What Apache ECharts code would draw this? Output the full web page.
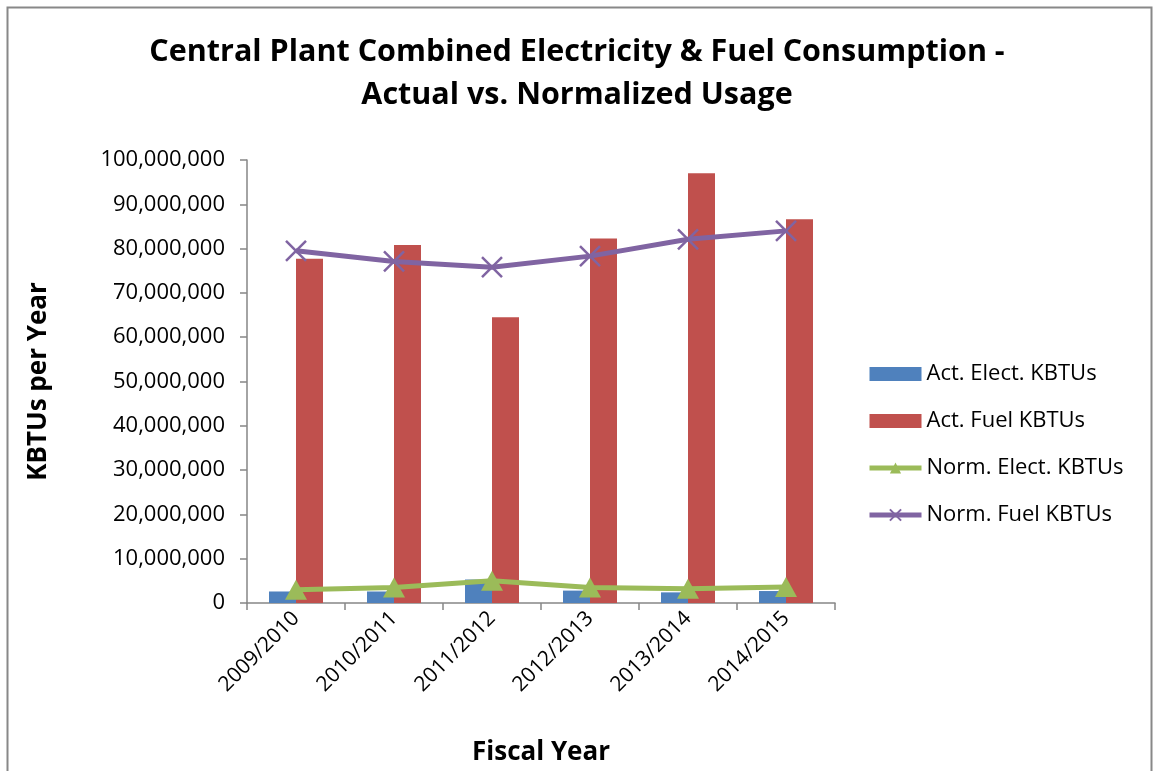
<!DOCTYPE html>
<html>
<head>
<meta charset="utf-8">
<script src="https://cdn.jsdelivr.net/npm/echarts@6/dist/echarts.min.js"></script>
<style>
  html, body { margin: 0; padding: 0; background: #fff; }
  #chart { width: 1154px; height: 771px; }
</style>
</head>
<body>
<div id="chart"></div>
<script>
// Fiscal years and yearly consumption (KBTUs)
const fiscalYears = ['2009/2010', '2010/2011', '2011/2012', '2012/2013', '2013/2014', '2014/2015'];
const actElect = [2600000, 2600000, 5300000, 2800000, 2400000, 2700000];
const actFuel = [77700000, 80800000, 64500000, 82300000, 97000000, 86600000];
const normElect = [3000000, 3500000, 5000000, 3500000, 3200000, 3600000];
const normFuel = [79500000, 77100000, 75800000, 78300000, 82100000, 84000000];

const FONT = 'Open Sans';
const axisGray = '#868686';

const chart = echarts.init(document.getElementById('chart'));

const option = {
  backgroundColor: '#fff',
  animation: false,
  graphic: [{
    type: 'rect',
    left: 5, top: 5,
    shape: { width: 1144, height: 800 },
    style: { fill: 'none', stroke: '#888', lineWidth: 2 },
    silent: true
  }],
  title: {
    text: 'Central Plant Combined Electricity & Fuel Consumption -\nActual vs. Normalized Usage',
    left: 'center',
    top: 26,
    textStyle: { fontFamily: FONT, fontWeight: 'bold', fontSize: 30.5, color: '#000', lineHeight: 43 }
  },
  legend: {
    orient: 'vertical',
    left: 862,
    top: 358,
    itemWidth: 52,
    itemHeight: 14,
    itemGap: 25,
    textStyle: { fontFamily: FONT, fontSize: 22, color: '#000' },
    data: [
      { name: 'Act. Elect. KBTUs', icon: 'rect' },
      { name: 'Act. Fuel KBTUs', icon: 'rect' },
      { name: 'Norm. Elect. KBTUs', lineStyle: { width: 5 } },
      { name: 'Norm. Fuel KBTUs', lineStyle: { width: 5 } }
    ]
  },
  grid: { left: 247, right: 319, top: 160, bottom: 168 },
  xAxis: {
    type: 'category',
    data: fiscalYears,
    name: 'Fiscal Year',
    nameLocation: 'middle',
    nameGap: 137,
    nameTextStyle: { fontFamily: FONT, fontWeight: 'bold', fontSize: 26, color: '#000' },
    axisLine: { lineStyle: { color: axisGray, width: 1.5 } },
    axisTick: { show: true, length: 7, lineStyle: { color: axisGray, width: 1.5 } },
    axisLabel: { rotate: 45, fontFamily: FONT, fontSize: 21, color: '#000', margin: 12 }
  },
  yAxis: {
    type: 'value',
    min: 0,
    max: 100000000,
    interval: 10000000,
    name: 'KBTUs per Year',
    nameLocation: 'middle',
    nameGap: 195,
    nameTextStyle: { fontFamily: FONT, fontWeight: 'bold', fontSize: 26, color: '#000' },
    splitLine: { show: false },
    axisLine: { show: true, lineStyle: { color: axisGray, width: 1.5 } },
    axisTick: { show: true, length: 7, lineStyle: { color: axisGray, width: 1.5 } },
    axisLabel: {
      fontFamily: FONT, fontSize: 22, color: '#000', margin: 22,
      formatter: v => v.toLocaleString('en-US')
    }
  },
  series: [
    {
      name: 'Act. Elect. KBTUs', type: 'bar', data: actElect,
      barWidth: 27, barGap: '0%',
      itemStyle: { color: '#4F81BD' }
    },
    {
      name: 'Act. Fuel KBTUs', type: 'bar', data: actFuel,
      barWidth: 27, barGap: '0%',
      itemStyle: { color: '#C0504D' }
    },
    {
      name: 'Norm. Elect. KBTUs', type: 'line', data: normElect,
      symbol: 'triangle', symbolSize: [22, 20],
      lineStyle: { color: '#9BBB59', width: 5 },
      itemStyle: { color: '#9BBB59' }
    },
    {
      name: 'Norm. Fuel KBTUs', type: 'line', data: normFuel,
      symbol: 'path://M0,0L10,10M10,0L0,10', symbolSize: 20,
      lineStyle: { color: '#8064A2', width: 5 },
      itemStyle: { color: 'none', borderColor: '#8064A2', borderWidth: 2.5 }
    }
  ]
};

chart.setOption(option);
</script>
</body>
</html>
